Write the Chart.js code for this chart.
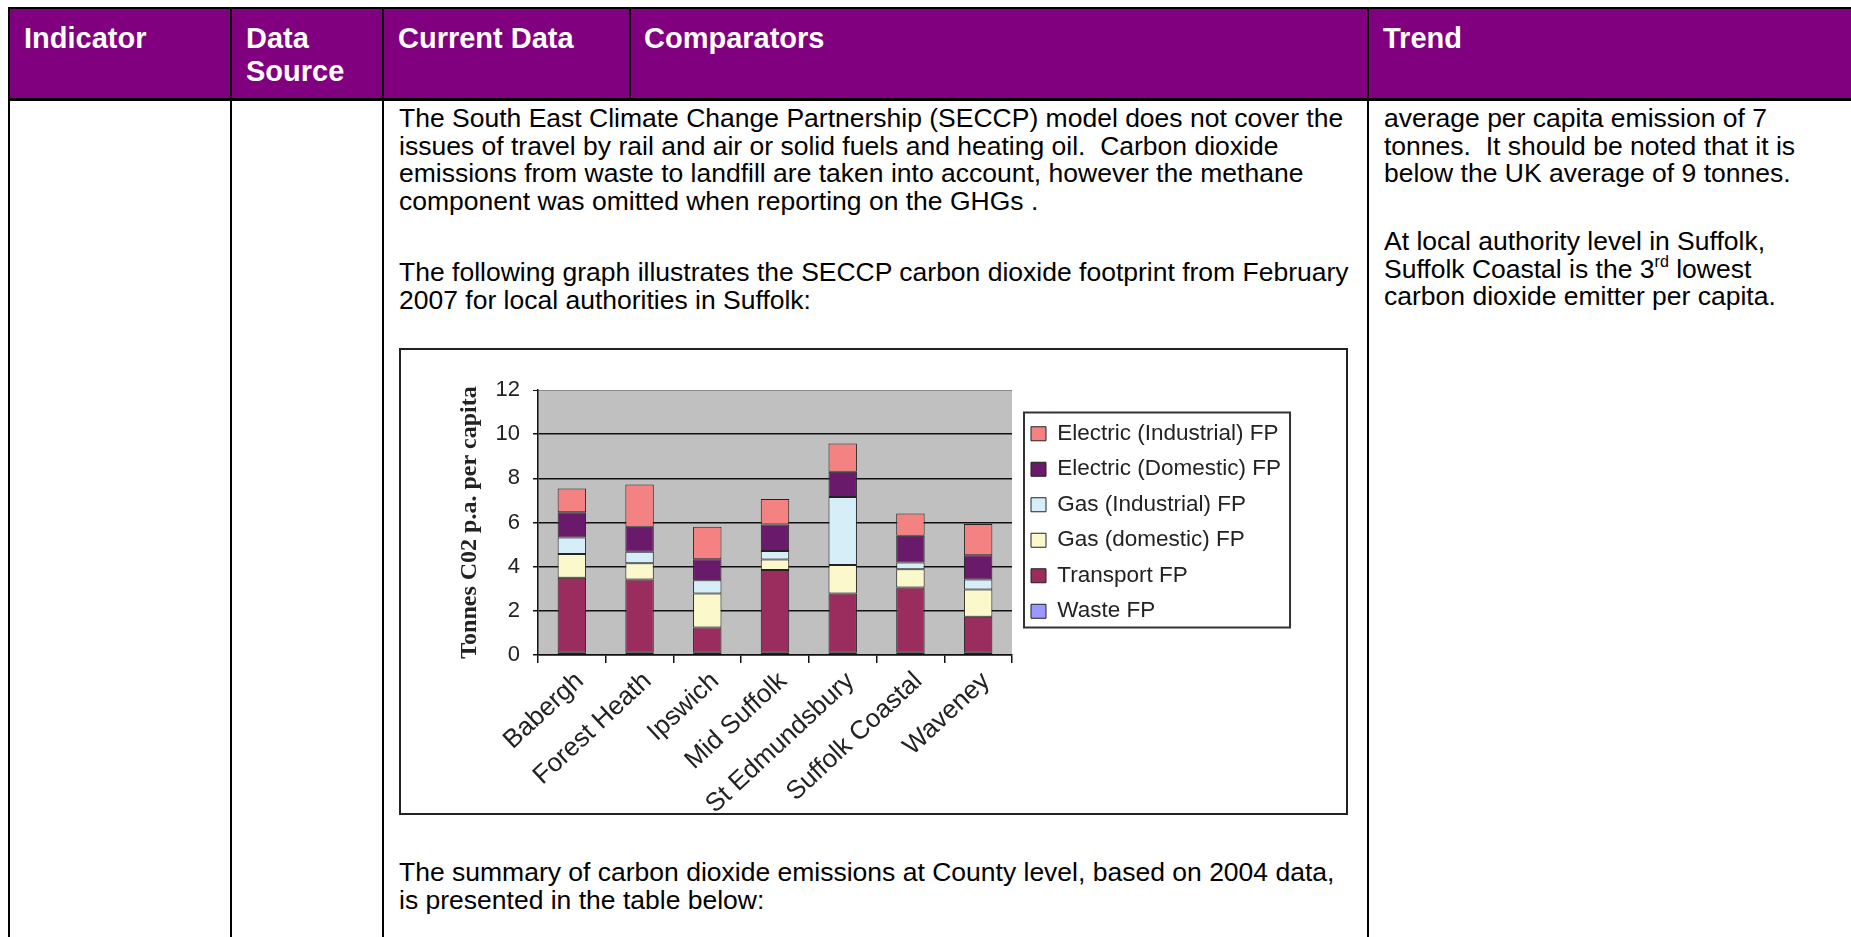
<!DOCTYPE html>
<html><head><meta charset="utf-8">
<script src="https://cdn.jsdelivr.net/npm/chart.js@4.4.1/dist/chart.umd.min.js"></script>
<style>
html,body{margin:0;padding:0;background:#fff;}
body{width:1851px;height:937px;overflow:hidden;position:relative;font-family:'Liberation Sans',Arial,sans-serif;}
.ln{position:absolute;background:#000;}
.hdr{position:absolute;color:#fff;font-weight:bold;font-size:29px;line-height:33px;white-space:pre;}
.txt{position:absolute;color:#000;font-size:26.5px;line-height:27.5px;white-space:pre;}
.txt sup{font-size:16px;line-height:0;vertical-align:11px;}
#chartBox{position:absolute;left:399px;top:348px;width:949px;height:467px;border:2px solid #222;box-sizing:border-box;background:#fff;}
canvas{display:block;}
</style></head>
<body>
<div style="position:absolute;left:9px;top:8px;width:1842px;height:91px;background:#800080"></div>
<div class="ln" style="left:8px;top:7px;width:1843px;height:2px"></div>
<div class="ln" style="left:8px;top:98px;width:1843px;height:3px"></div>
<div class="ln" style="left:8px;top:7px;width:2px;height:930px"></div>
<div class="ln" style="left:230px;top:7px;width:2px;height:930px"></div>
<div class="ln" style="left:382px;top:7px;width:2px;height:930px"></div>
<div class="ln" style="left:629px;top:7px;width:2px;height:93px"></div>
<div class="ln" style="left:1367px;top:7px;width:2px;height:930px"></div>

<div class="hdr" style="left:24px;top:21.5px">Indicator</div>
<div class="hdr" style="left:246px;top:21.5px">Data
Source</div>
<div class="hdr" style="left:398px;top:21.5px">Current Data</div>
<div class="hdr" style="left:644px;top:21.5px">Comparators</div>
<div class="hdr" style="left:1383px;top:21.5px">Trend</div>

<div class="txt" style="left:399px;top:105px">The South East Climate Change Partnership (SECCP) model does not cover the
issues of travel by rail and air or solid fuels and heating oil.  Carbon dioxide
emissions from waste to landfill are taken into account, however the methane
component was omitted when reporting on the GHGs .</div>
<div class="txt" style="left:399px;top:259px">The following graph illustrates the SECCP carbon dioxide footprint from February
2007 for local authorities in Suffolk:</div>
<div class="txt" style="left:399px;top:859px">The summary of carbon dioxide emissions at County level, based on 2004 data,
is presented in the table below:</div>

<div class="txt" style="left:1384px;top:105px">average per capita emission of 7
tonnes.  It should be noted that it is
below the UK average of 9 tonnes.</div>
<div class="txt" style="left:1384px;top:228px">At local authority level in Suffolk,
Suffolk Coastal is the 3<sup>rd</sup> lowest
carbon dioxide emitter per capita.</div>

<div id="chartBox"><canvas id="c" width="945" height="463"></canvas></div>

<script>
const categories = ['Babergh','Forest Heath','Ipswich','Mid Suffolk','St Edmundsbury','Suffolk Coastal','Waveney'];
const wasteFP = [0.1,0.1,0.1,0.1,0.1,0.1,0.1];
const transportFP = [3.4,3.32,1.15,3.75,2.69,2.96,1.63];
const gasDomesticFP = [1.07,0.73,1.54,0.48,1.28,0.82,1.24];
const gasIndustrialFP = [0.75,0.53,0.6,0.38,3.09,0.31,0.45];
const electricDomesticFP = [1.14,1.13,0.95,1.2,1.14,1.21,1.1];
const electricIndustrialFP = [1.08,1.91,1.47,1.15,1.28,1.01,1.41];
const yMin = 0, yMax = 12, yStep = 2;
const yTitle = 'Tonnes C02 p.a. per capita';

const plotBg = {
  id: 'plotBg',
  beforeDraw(chart) {
    const a = chart.chartArea, c = chart.ctx;
    c.save(); c.fillStyle = '#c0c0c0';
    c.fillRect(a.left, a.top, a.right - a.left, a.bottom - a.top);
    c.restore();
  }
};
const legendWidth = {
  id: 'legendWidth',
  beforeLayout(chart) {
    const lg = chart.legend;
    if (lg && !lg._fixedW) {
      const orig = lg.fit;
      lg.fit = function () { orig.call(this); this.width = 270; };
      lg._fixedW = true;
    }
  }
};
const legendFrame = {
  id: 'legendFrame',
  afterDraw(chart) {
    const lg = chart.legend;
    if (!lg || !lg.legendHitBoxes || !lg.legendHitBoxes.length) return;
    let l = Infinity, t = Infinity, r = -Infinity, b = -Infinity;
    lg.legendHitBoxes.forEach(h => {
      l = Math.min(l, h.left); t = Math.min(t, h.top);
      r = Math.max(r, h.left + h.width); b = Math.max(b, h.top + h.height);
    });
    const c = chart.ctx;
    c.save(); c.strokeStyle = '#333'; c.lineWidth = 2;
    c.strokeRect(l - 7, t - 10, r - l + 16, b - t + 15);
    c.restore();
  }
};

const ds = (label, data, color) => ({
  label, data, backgroundColor: color, borderColor: '#222', borderWidth: 1,
  borderSkipped: false, categoryPercentage: 1, barPercentage: 0.42
});

new Chart(document.getElementById('c'), {
  type: 'bar',
  data: {
    labels: categories,
    datasets: [
      ds('Waste FP', wasteFP, '#9999ff'),
      ds('Transport FP', transportFP, '#9b2d5e'),
      ds('Gas (domestic) FP', gasDomesticFP, '#fbf8cc'),
      ds('Gas (Industrial) FP', gasIndustrialFP, '#d5eef8'),
      ds('Electric (Domestic) FP', electricDomesticFP, '#6a1a6a'),
      ds('Electric (Industrial) FP', electricIndustrialFP, '#f48282')
    ]
  },
  options: {
    responsive: false,
    animation: false,
    layout: { padding: { left: 54, top: 40, right: 58, bottom: 0 } },
    plugins: {
      tooltip: { enabled: false },
      legend: {
        position: 'right', align: 'center', reverse: true, fullSize: false,
        labels: {
          boxWidth: 15, boxHeight: 14, padding: 13, color: '#222',
          font: { size: 22.5, family: "'Liberation Sans', Arial, sans-serif" }
        }
      }
    },
    scales: {
      x: {
        stacked: true,
        grid: { display: true, drawOnChartArea: false, drawTicks: true, tickLength: 8, color: '#111', lineWidth: 1.5, offset: true },
        border: { color: '#111', width: 1.5 },
        ticks: { maxRotation: 43, minRotation: 43, autoSkip: false, padding: 3, labelOffset: 8, color: '#222',
          font: { size: 26, family: "'Liberation Sans', Arial, sans-serif" } },
        afterFit: s => { s.height = 158; }
      },
      y: {
        stacked: true, min: yMin, max: yMax,
        ticks: { stepSize: yStep, padding: 13, color: '#222',
          font: { size: 22, family: "'Liberation Sans', Arial, sans-serif" } },
        grid: {
          color: c => (c.tick && c.tick.value === yMax) ? '#8a8a8a' : '#111',
          lineWidth: c => (c.tick && c.tick.value === yMax) ? 1 : 1.5,
          tickColor: '#111', tickLength: 5
        },
        border: { color: '#111', width: 1.5 },
        title: { display: true, text: yTitle, color: '#222', padding: 0,
          font: { size: 24, weight: 'bold', family: "'Liberation Serif', 'Times New Roman', serif" } },
        afterFit: s => { s.width = 83; }
      },
      y2: {
        type: 'linear', position: 'right', display: true,
        grid: { display: false }, border: { display: false }, ticks: { display: false },
        afterFit: s => { s.width = 6; }
      }
    }
  },
  plugins: [plotBg, legendWidth, legendFrame]
});
</script>
</body></html>
